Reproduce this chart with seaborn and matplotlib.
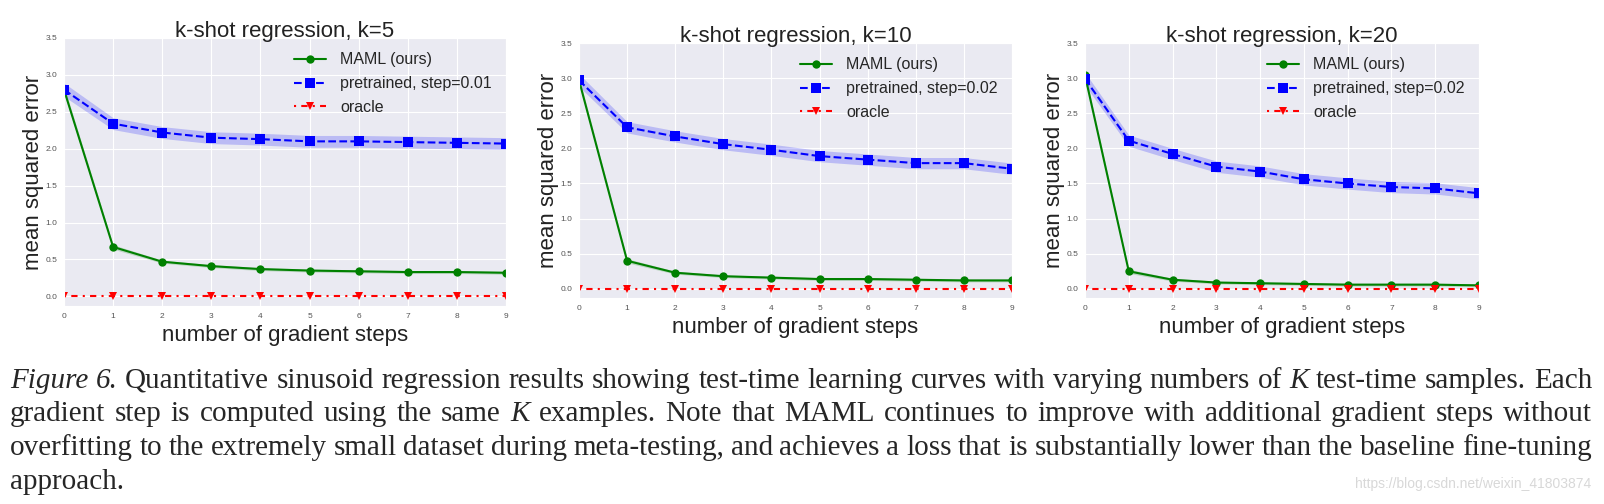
import numpy as np
import pandas as pd
import matplotlib
matplotlib.use("Agg")
import matplotlib.pyplot as plt
import seaborn as sns

# values
steps = list(range(10))
titles = ["k-shot regression, k=5", "k-shot regression, k=10", "k-shot regression, k=20"]
pre_labels = ["pretrained, step=0.01", "pretrained, step=0.02", "pretrained, step=0.02"]

maml_k5 = [2.80, 0.67, 0.47, 0.41, 0.37, 0.35, 0.34, 0.33, 0.33, 0.32]
maml_k10 = [2.97, 0.40, 0.23, 0.18, 0.16, 0.14, 0.14, 0.13, 0.12, 0.12]
maml_k20 = [3.04, 0.25, 0.13, 0.09, 0.08, 0.07, 0.06, 0.06, 0.06, 0.05]

pre_k5 = [2.80, 2.34, 2.22, 2.15, 2.13, 2.10, 2.10, 2.09, 2.08, 2.07]
pre_k10 = [2.97, 2.30, 2.17, 2.06, 1.98, 1.89, 1.84, 1.79, 1.79, 1.71]
pre_k20 = [2.99, 2.11, 1.92, 1.74, 1.67, 1.56, 1.50, 1.45, 1.43, 1.36]

oracle = [0.0] * 10

# half-width of the shaded bands
maml_err = [0.05, 0.03, 0.02, 0.02, 0.02, 0.02, 0.02, 0.02, 0.02, 0.02]
pre_err = [0.09, 0.08, 0.08, 0.08, 0.08, 0.08, 0.08, 0.08, 0.08, 0.08]

# caption, words wrapped in *...* are italic
caption_lines = [
    "*Figure* *6.* Quantitative sinusoid regression results showing test-time learning curves with varying numbers of *K* test-time samples. Each",
    "gradient step is computed using the same *K* examples. Note that MAML continues to improve with additional gradient steps without",
    "overfitting to the extremely small dataset during meta-testing, and achieves a loss that is substantially lower than the baseline fine-tuning",
    "approach.",
]
watermark = "https://blog.csdn.net/weixin_41803874"

sns.set_style("darkgrid")
plt.rcParams['font.family'] = ['Liberation Sans', 'DejaVu Sans']

W, H = 1604, 504
fig = plt.figure(figsize=(W / 100, H / 100), dpi=100)

# axes boxes in pixels: left, top, right, bottom
boxes = [(64, 38, 506, 306), (579, 43, 1012, 298), (1085, 43, 1479, 298)]
maml_all = [maml_k5, maml_k10, maml_k20]
pre_all = [pre_k5, pre_k10, pre_k20]

for i, (l, t, r, b) in enumerate(boxes):
    ax = fig.add_axes([l / W, 1 - b / H, (r - l) / W, (b - t) / H])
    df = pd.DataFrame({"step": steps, "maml": maml_all[i], "pre": pre_all[i], "oracle": oracle})

    ax.fill_between(df["step"], df["maml"] - np.array(maml_err), df["maml"] + np.array(maml_err),
                    color="g", alpha=0.2, lw=0)
    ax.fill_between(df["step"], df["pre"] - np.array(pre_err), df["pre"] + np.array(pre_err),
                    color="b", alpha=0.2, lw=0)

    sns.lineplot(data=df, x="step", y="maml", ax=ax, color="g", marker="o", markersize=6,
                 markeredgewidth=0, lw=1.5, label="MAML (ours)", errorbar=None)
    sns.lineplot(data=df, x="step", y="pre", ax=ax, color="b", marker="s", markersize=7,
                 markeredgewidth=0, lw=1.5, linestyle="--", label=pre_labels[i], errorbar=None)
    sns.lineplot(data=df, x="step", y="oracle", ax=ax, color="r", marker="v", markersize=6,
                 markeredgewidth=0, lw=1.5, linestyle=(0, (1, 2.5, 3, 2.5)), label="oracle",
                 errorbar=None)

    ax.set_xlim(0, 9)
    ax.set_ylim(-0.13, 3.5)
    ax.set_xticks(steps)
    ax.set_yticks(np.arange(0, 3.51, 0.5))
    ax.set_yticklabels([f"{v:.1f}" for v in np.arange(0, 3.51, 0.5)])
    ax.tick_params(labelsize=6, colors="#555555", pad=1.5)
    ax.set_title(titles[i], fontsize=16, color="#222222", pad=1)
    ax.set_xlabel("number of gradient steps", fontsize=16, color="#222222", labelpad=4)
    ax.set_ylabel("mean squared error", fontsize=16, color="#222222", labelpad=1)
    ax.legend(loc="upper right", frameon=False, fontsize=11.5, handlelength=2.0,
              labelspacing=0.55, handletextpad=0.9)

# caption, justified between x0 and x1 (pixels)
x0, x1 = 10, 1592
ys = [381, 414, 448, 482]
renderer = fig.canvas.get_renderer()
for n, (line, y) in enumerate(zip(caption_lines, ys)):
    words = line.split(" ")
    items = []
    for w in words:
        italic = w.startswith("*") and w.endswith("*")
        t = fig.text(0, 1 - y / H, w.strip("*"), fontsize=21, family="Liberation Serif",
                     style="italic" if italic else "normal", va="center", ha="left")
        items.append((t, t.get_window_extent(renderer).width))
    total = sum(wd for _, wd in items)
    if n < len(caption_lines) - 1:
        gap = (x1 - x0 - total) / (len(items) - 1)
    else:
        gap = 5.0
    x = x0
    for t, wd in items:
        t.set_x(x / W)
        x += wd + gap

fig.text(1591 / W, 1 - 484 / H, watermark, fontsize=10, color="#d8d8d8",
         ha="right", va="center")

fig.savefig("out.png", dpi=100)
